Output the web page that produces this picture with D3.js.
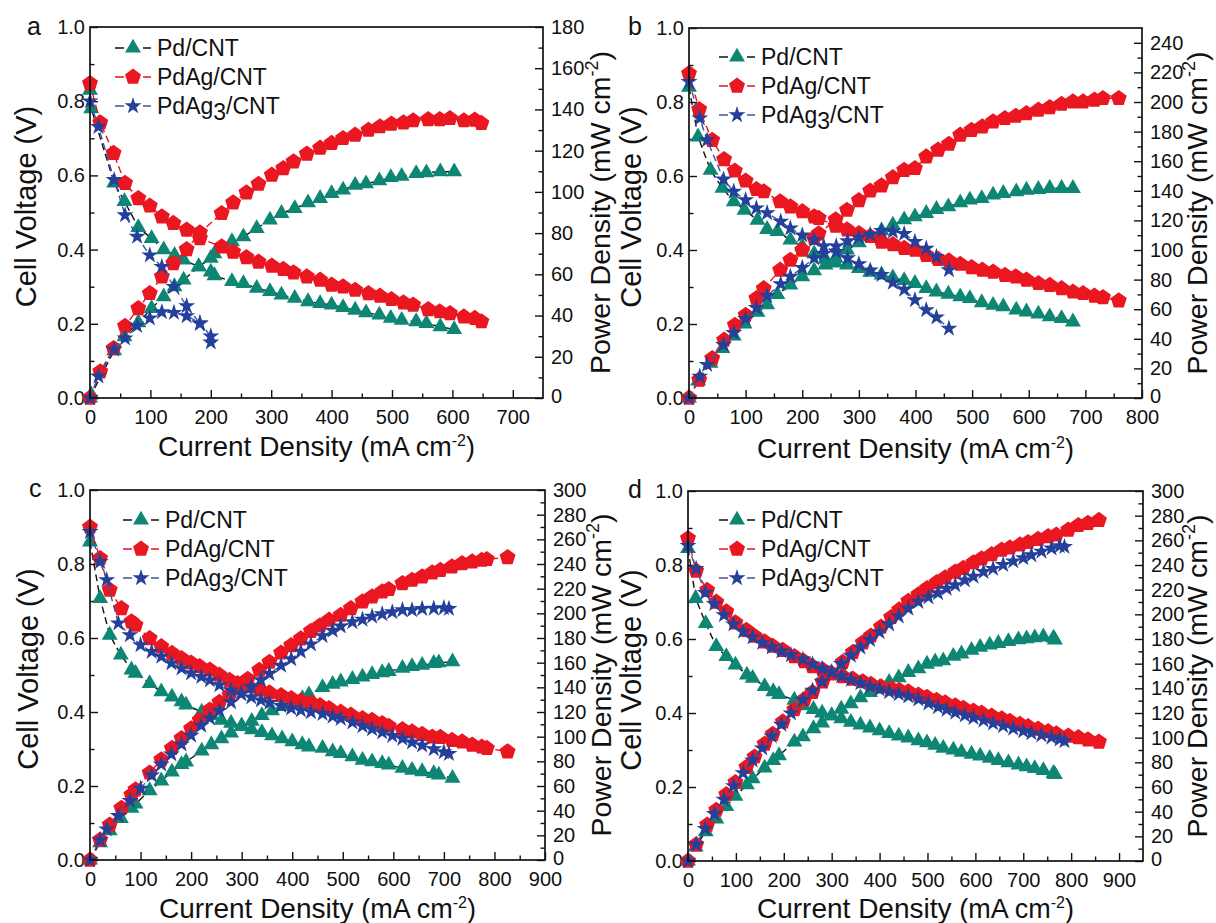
<!DOCTYPE html>
<html><head><meta charset="utf-8">
<script src="https://cdn.jsdelivr.net/npm/d3@7"></script>
<style>body{margin:0;background:#fff}svg{display:block}text{font-family:"Liberation Sans",Arial,sans-serif;fill:#111}</style>
</head><body><svg id="chart" width="1216" height="923"></svg>
<script>
// ---------- data ----------
const seriesNames = ["Pd/CNT", "PdAg/CNT", "PdAg3/CNT"];
const panelLetters = ["a", "b", "c", "d"];
const voltTicks = [0, 0.2, 0.4, 0.6, 0.8, 1.0];
const a_xTicks = [0, 100, 200, 300, 400, 500, 600, 700];
const b_xTicks = [0, 100, 200, 300, 400, 500, 600, 700, 800];
const c_xTicks = [0, 100, 200, 300, 400, 500, 600, 700, 800, 900];
const d_xTicks = [0, 100, 200, 300, 400, 500, 600, 700, 800, 900];
const a_pTicks = [0, 20, 40, 60, 80, 100, 120, 140, 160, 180];
const b_pTicks = [0, 20, 40, 60, 80, 100, 120, 140, 160, 180, 200, 220, 240];
const c_pTicks = [0, 20, 40, 60, 80, 100, 120, 140, 160, 180, 200, 220, 240, 260, 280, 300];
const d_pTicks = [0, 20, 40, 60, 80, 100, 120, 140, 160, 180, 200, 220, 240, 260, 280, 300];

// panel a
const a_Pd_I = [0, 2, 40, 57, 80, 102, 122, 140, 155, 180, 200, 206, 235, 254, 276, 298, 317, 339, 361, 381, 400, 419, 439, 457, 479, 498, 516, 540, 557, 580, 603];
const a_Pd_V = [0.83, 0.78, 0.58, 0.53, 0.46, 0.43, 0.40, 0.385, 0.372, 0.354, 0.34, 0.33, 0.314, 0.309, 0.296, 0.287, 0.278, 0.269, 0.26, 0.255, 0.251, 0.244, 0.237, 0.23, 0.224, 0.215, 0.21, 0.206, 0.201, 0.192, 0.185];
const a_Pd_P = [0, 1.6, 23, 29.8, 36.6, 43.5, 49.2, 54, 57.3, 63.7, 67.8, 70, 75.9, 78.3, 82.3, 86.4, 89.6, 92, 94.8, 96.9, 99.3, 101, 103.3, 104, 105.4, 107, 107.6, 109, 109.3, 109.8, 109.8];
const a_PdAg_I = [0, 17, 39, 58, 80, 99, 119, 138, 160, 182, 218, 237, 259, 279, 301, 320, 337, 359, 381, 400, 419, 439, 461, 480, 499, 519, 535, 560, 579, 596, 619, 637, 648];
const a_PdAg_V = [0.848, 0.742, 0.66, 0.579, 0.538, 0.518, 0.489, 0.471, 0.453, 0.43, 0.408, 0.394, 0.379, 0.367, 0.356, 0.347, 0.338, 0.327, 0.318, 0.305, 0.30, 0.291, 0.282, 0.275, 0.266, 0.257, 0.251, 0.239, 0.233, 0.228, 0.219, 0.215, 0.206];
const a_PdAg_P = [0, 12.8, 24.1, 34.9, 43.5, 50.8, 58.9, 65.3, 72.1, 80.2, 89.6, 94.8, 99.6, 103.8, 108.2, 111.4, 114.7, 118.4, 121.3, 123.6, 126, 127.6, 130, 131.7, 133, 133.6, 134.6, 135.2, 135.2, 135.7, 134.6, 134.9, 133.3];
const a_PdAg3_I = [0, 14, 40, 58, 78, 99, 119, 139, 160, 182, 200];
const a_PdAg3_V = [0.80, 0.731, 0.588, 0.493, 0.435, 0.385, 0.354, 0.30, 0.248, 0.20, 0.15];
const a_PdAg3_P = [0, 10.5, 23.5, 29, 35, 38.7, 41.7, 41.4, 39.8, 36.4, 30];

// panel b
const b_Pd_I = [0, 16, 38, 59, 79, 98, 121, 138, 156, 179, 200, 221, 241, 259, 279, 300, 320, 340, 360, 380, 399, 419, 437, 458, 479, 496, 517, 537, 555, 578, 596, 617, 637, 658, 678];
const b_Pd_V = [0.84, 0.706, 0.616, 0.567, 0.531, 0.508, 0.481, 0.456, 0.45, 0.427, 0.41, 0.39, 0.375, 0.365, 0.36, 0.35, 0.34, 0.333, 0.325, 0.318, 0.31, 0.296, 0.287, 0.281, 0.274, 0.269, 0.258, 0.251, 0.247, 0.238, 0.233, 0.227, 0.22, 0.215, 0.206];
const b_Pd_P = [0, 11.5, 23.5, 33.5, 42, 50, 58, 63, 70, 76.5, 82, 86, 90, 94.5, 100, 105, 109, 113, 117, 120.5, 122.5, 124.8, 127.5, 129.3, 132, 133.8, 134.9, 137.2, 138.3, 139.4, 140.5, 141, 141.7, 141.7, 141.7];
const b_PdAg_I = [0, 18, 41, 62, 81, 100, 119, 132, 161, 179, 200, 221, 229, 259, 279, 300, 320, 340, 360, 380, 399, 419, 440, 459, 479, 499, 518, 537, 558, 577, 596, 617, 637, 658, 678, 696, 716, 731, 759];
const b_PdAg_V = [0.877, 0.78, 0.697, 0.645, 0.614, 0.587, 0.564, 0.558, 0.531, 0.517, 0.504, 0.49, 0.486, 0.465, 0.455, 0.445, 0.437, 0.422, 0.415, 0.405, 0.40, 0.386, 0.375, 0.371, 0.362, 0.353, 0.346, 0.341, 0.332, 0.328, 0.319, 0.31, 0.305, 0.296, 0.287, 0.283, 0.276, 0.272, 0.263];
const b_PdAg_P = [0, 12.2, 26.8, 39.2, 49.3, 56, 67.3, 74, 86.5, 93.2, 100, 108, 111, 120.5, 127, 133.5, 140, 143.5, 149, 154, 155.2, 163, 167.6, 171.6, 177.7, 181, 183.3, 186.7, 189, 190.5, 192.3, 194.6, 196.4, 198.6, 200.2, 200.2, 201.4, 202.5, 202.5];
const b_PdAg3_I = [0, 19, 32, 61, 79, 100, 119, 138, 162, 179, 200, 221, 238, 260, 280, 300, 320, 340, 360, 380, 399, 419, 437, 459];
const b_PdAg3_V = [0.855, 0.756, 0.697, 0.591, 0.558, 0.535, 0.513, 0.50, 0.477, 0.459, 0.44, 0.427, 0.41, 0.395, 0.378, 0.362, 0.345, 0.333, 0.312, 0.293, 0.265, 0.238, 0.218, 0.188];
const b_PdAg3_P = [0, 14.5, 22.5, 36, 44, 53.5, 61, 69, 77, 82, 88, 94.5, 97.5, 102.5, 106, 108.5, 110.5, 113, 112.5, 111, 105.6, 101, 95.5, 86.5];

// panel c
const c_Pd_I = [0, 20, 39, 61, 82, 90, 118, 141, 162, 181, 190, 221, 240, 260, 279, 300, 320, 340, 360, 380, 400, 420, 433, 460, 480, 496, 519, 539, 558, 578, 591, 618, 637, 657, 680, 690, 717];
const c_Pd_V = [0.86, 0.707, 0.608, 0.554, 0.514, 0.505, 0.477, 0.455, 0.441, 0.428, 0.419, 0.40, 0.39, 0.378, 0.37, 0.362, 0.352, 0.345, 0.336, 0.328, 0.32, 0.312, 0.306, 0.302, 0.293, 0.288, 0.279, 0.27, 0.266, 0.261, 0.257, 0.248, 0.243, 0.239, 0.234, 0.23, 0.221];
const c_Pd_P = [0, 14, 23.7, 33.8, 42, 45.5, 56.3, 64.2, 71.4, 77.5, 79.6, 88.4, 93.6, 98.3, 103, 108.6, 112.6, 117.3, 121, 124.6, 128, 131, 134, 140, 142.5, 144.5, 146.5, 148.5, 150.5, 152, 153, 155.5, 157, 158, 159.5, 160, 160.8];
const c_PdAg_I = [0, 20, 39, 62, 82, 90, 118, 141, 162, 181, 200, 217, 237, 256, 276, 292, 312, 335, 355, 378, 398, 417, 437, 455, 473, 496, 516, 539, 558, 578, 591, 618, 637, 657, 677, 693, 716, 736, 756, 775, 785, 826];
const c_PdAg_V = [0.90, 0.815, 0.73, 0.68, 0.644, 0.635, 0.599, 0.577, 0.559, 0.545, 0.533, 0.523, 0.514, 0.50, 0.486, 0.477, 0.47, 0.46, 0.452, 0.445, 0.437, 0.43, 0.425, 0.418, 0.41, 0.40, 0.392, 0.383, 0.378, 0.369, 0.362, 0.353, 0.347, 0.34, 0.333, 0.332, 0.324, 0.32, 0.311, 0.306, 0.302, 0.293];
const c_PdAg_P = [0, 16.3, 28.5, 42, 52.8, 57, 70.7, 81.4, 90.6, 98.6, 106.5, 113.5, 121.8, 128, 134, 139.3, 146.6, 154, 160.5, 168, 174, 179.5, 185.5, 190, 194.6, 198.6, 204, 209.5, 213.5, 217.6, 219.5, 224.3, 227, 229.7, 233, 235, 237.8, 240.5, 241.9, 243.2, 243.8, 245.4];
const c_PdAg3_I = [0, 20, 33, 56, 79, 100, 122, 141, 161, 181, 200, 220, 237, 256, 279, 299, 319, 338, 355, 378, 398, 417, 437, 460, 480, 496, 519, 539, 558, 578, 598, 618, 637, 657, 680, 700, 710];
const c_PdAg3_V = [0.887, 0.806, 0.757, 0.64, 0.608, 0.581, 0.563, 0.55, 0.532, 0.518, 0.505, 0.495, 0.486, 0.473, 0.459, 0.45, 0.44, 0.432, 0.425, 0.417, 0.41, 0.405, 0.40, 0.395, 0.388, 0.382, 0.372, 0.362, 0.354, 0.345, 0.336, 0.328, 0.318, 0.31, 0.30, 0.292, 0.287];
const c_PdAg3_P = [0, 16, 25, 35.8, 48, 58, 68.7, 77.5, 85.7, 93.8, 101, 109, 115, 121, 128, 134.5, 140.4, 146, 151, 157.6, 163, 169, 175, 181.7, 186, 189.5, 193, 195, 197.5, 199.4, 201, 202.7, 202.6, 203.7, 204, 204.4, 203.8];

// panel d
const d_Pd_I = [0, 16, 37, 59, 80, 99, 123, 135, 160, 178, 190, 222, 240, 262, 280, 300, 320, 340, 360, 380, 400, 420, 440, 460, 481, 499, 516, 533, 554, 571, 592, 610, 630, 648, 669, 690, 707, 724, 742, 763, 766];
const d_Pd_V = [0.845, 0.71, 0.642, 0.58, 0.553, 0.53, 0.503, 0.494, 0.472, 0.458, 0.45, 0.435, 0.42, 0.41, 0.40, 0.393, 0.385, 0.375, 0.368, 0.36, 0.352, 0.345, 0.338, 0.333, 0.325, 0.32, 0.313, 0.305, 0.30, 0.294, 0.289, 0.284, 0.278, 0.272, 0.266, 0.26, 0.255, 0.25, 0.245, 0.237, 0.234];
const d_Pd_P = [0, 11.4, 23.8, 34.2, 44.2, 52.5, 61.9, 66.7, 75.5, 81.5, 85.5, 96.6, 100.8, 107.4, 112, 117.9, 123.2, 127.5, 132.5, 136.8, 140.8, 145, 148.7, 153, 156, 159.7, 161.5, 162.5, 166, 168, 171, 173.3, 175.2, 176.5, 178, 179.4, 180.3, 181, 181.8, 180.8, 179.2];
const d_PdAg_I = [0, 17, 40, 59, 80, 99, 122, 139, 160, 177, 198, 222, 243, 260, 281, 299, 323, 344, 365, 382, 403, 424, 441, 460, 481, 499, 519, 537, 558, 575, 596, 613, 634, 655, 672, 693, 710, 731, 752, 769, 794, 815, 835, 858];
const d_PdAg_V = [0.872, 0.784, 0.732, 0.70, 0.674, 0.644, 0.624, 0.608, 0.593, 0.581, 0.57, 0.553, 0.539, 0.526, 0.517, 0.508, 0.499, 0.492, 0.485, 0.478, 0.471, 0.466, 0.462, 0.458, 0.449, 0.443, 0.435, 0.428, 0.42, 0.413, 0.406, 0.40, 0.392, 0.385, 0.378, 0.37, 0.364, 0.357, 0.35, 0.344, 0.338, 0.334, 0.328, 0.322];
const d_PdAg_P = [0, 13.3, 29.3, 41.3, 53.9, 63.8, 76.1, 84.5, 94.9, 102.8, 112.9, 122.8, 131, 136.8, 145.3, 151.9, 161.2, 169.2, 177, 182.6, 189.8, 197.6, 203.7, 210.7, 216, 221, 225.8, 229.8, 234.4, 237.5, 242, 245.2, 248.5, 252.2, 254, 256.4, 258.4, 261, 263.2, 264.5, 268.4, 272.2, 273.9, 276.3];
const d_PdAg3_I = [0, 17, 36, 55, 75, 95, 115, 135, 155, 175, 195, 215, 240, 260, 280, 300, 320, 340, 360, 380, 400, 420, 440, 460, 481, 502, 522, 540, 558, 578, 596, 617, 637, 658, 679, 700, 717, 738, 759, 776, 786];
const d_PdAg3_V = [0.852, 0.79, 0.725, 0.695, 0.665, 0.64, 0.62, 0.605, 0.59, 0.578, 0.567, 0.557, 0.545, 0.532, 0.52, 0.51, 0.50, 0.49, 0.481, 0.472, 0.464, 0.457, 0.451, 0.445, 0.437, 0.426, 0.416, 0.409, 0.401, 0.394, 0.387, 0.38, 0.372, 0.365, 0.358, 0.351, 0.346, 0.34, 0.334, 0.329, 0.324];
const d_PdAg3_P = [0, 13.4, 26.1, 38.2, 49.9, 60.8, 71.3, 81.7, 91.5, 101.2, 110.6, 119.8, 130.8, 138.3, 145.6, 153, 160, 166.6, 173.2, 179.4, 185.6, 192, 198.4, 204.7, 210.2, 213.9, 217.2, 220.9, 223.8, 227.7, 230.7, 234.5, 237, 240.2, 243.1, 245.7, 248, 251, 253.5, 255.3, 254.7];

// ---------- layout ----------
const panels = [
  {x0: 90, x1: 543, y0: 27, y1: 398, xMax: 750, pMax: 180, xTicks: a_xTicks, pTicks: a_pTicks,
   legX: 115, legY: 48, letX: 27, letY: 35, vtX: 36, ptX: 610, xtY: 456,
   data: [[a_Pd_I, a_Pd_V, a_Pd_P], [a_PdAg_I, a_PdAg_V, a_PdAg_P], [a_PdAg3_I, a_PdAg3_V, a_PdAg3_P]]},
  {x0: 689, x1: 1142, y0: 28, y1: 398, xMax: 800, pMax: 250, xTicks: b_xTicks, pTicks: b_pTicks,
   legX: 719, legY: 57, letX: 628, letY: 35, vtX: 641, ptX: 1207, xtY: 458,
   data: [[b_Pd_I, b_Pd_V, b_Pd_P], [b_PdAg_I, b_PdAg_V, b_PdAg_P], [b_PdAg3_I, b_PdAg3_V, b_PdAg3_P]]},
  {x0: 90, x1: 545, y0: 490, y1: 860, xMax: 900, pMax: 300, xTicks: c_xTicks, pTicks: c_pTicks,
   legX: 123, legY: 520, letX: 29, letY: 497, vtX: 38, ptX: 611, xtY: 918,
   data: [[c_Pd_I, c_Pd_V, c_Pd_P], [c_PdAg_I, c_PdAg_V, c_PdAg_P], [c_PdAg3_I, c_PdAg3_V, c_PdAg3_P]]},
  {x0: 688, x1: 1143, y0: 491, y1: 861, xMax: 950, pMax: 300, xTicks: d_xTicks, pTicks: d_pTicks,
   legX: 719, legY: 520, letX: 628, letY: 498, vtX: 641, ptX: 1207, xtY: 918,
   data: [[d_Pd_I, d_Pd_V, d_Pd_P], [d_PdAg_I, d_PdAg_V, d_PdAg_P], [d_PdAg3_I, d_PdAg3_V, d_PdAg3_P]]}
];

function pentagonPath(r) {
  const pts = d3.range(5).map(k => {
    const a = -Math.PI / 2 + k * 2 * Math.PI / 5;
    return [(r * Math.cos(a)).toFixed(2), (r * Math.sin(a)).toFixed(2)];
  });
  return "M" + pts.map(p => p.join(",")).join("L") + "Z";
}
const styles = [
  {fill: "#0e8674", line: "#111", sym: d3.symbol(d3.symbolTriangle, 110)()},
  {fill: "#ea1620", line: "#e8141b", sym: pentagonPath(8.4)},
  {fill: "#24409a", line: "#3b56a5", sym: d3.symbol(d3.symbolStar, 90)()}
];

const svg = d3.select("#chart");
const FONT = '"Liberation Sans", Arial, sans-serif';
const TICK_FS = 20;

function styleAxis(sel, size) {
  sel.attr("font-size", size).attr("font-family", FONT);
  sel.selectAll(".tick line").attr("stroke", "#111").attr("stroke-width", 1.4);
  sel.selectAll(".tick text").attr("fill", "#111");
  sel.select(".domain").remove();
}

panels.forEach((L, pi) => {
  const g = svg.append("g");
  const x = d3.scaleLinear().domain([0, L.xMax]).range([L.x0, L.x1]);
  const yV = d3.scaleLinear().domain([0, 1]).range([L.y1, L.y0]);
  const yP = d3.scaleLinear().domain([0, L.pMax]).range([L.y1, L.y0]);

  // minor ticks
  const xMinor = d3.range(50, L.xMax, 100);
  const vMinor = [0.1, 0.3, 0.5, 0.7, 0.9];
  const pMinor = d3.range(10, L.pMax, 20);
  g.append("g").attr("transform", `translate(0,${L.y1})`)
    .call(d3.axisBottom(x).tickValues(xMinor).tickSize(-4.5).tickFormat(""))
    .call(s => styleAxis(s, TICK_FS));
  g.append("g").attr("transform", `translate(${L.x0},0)`)
    .call(d3.axisLeft(yV).tickValues(vMinor).tickSize(-4.5).tickFormat(""))
    .call(s => styleAxis(s, TICK_FS));
  g.append("g").attr("transform", `translate(${L.x1},0)`)
    .call(d3.axisRight(yP).tickValues(pMinor).tickSize(-4.5).tickFormat(""))
    .call(s => styleAxis(s, TICK_FS));
  // major ticks
  g.append("g").attr("transform", `translate(0,${L.y1})`)
    .call(d3.axisBottom(x).tickValues(L.xTicks).tickSize(-8).tickPadding(12).tickFormat(d3.format("d")))
    .call(s => styleAxis(s, TICK_FS));
  g.append("g").attr("transform", `translate(${L.x0},0)`)
    .call(d3.axisLeft(yV).tickValues(voltTicks).tickSize(-8).tickPadding(5).tickFormat(d3.format(".1f")))
    .call(s => styleAxis(s, TICK_FS));
  g.append("g").attr("transform", `translate(${L.x1},0)`)
    .call(d3.axisRight(yP).tickValues(L.pTicks).tickSize(-8).tickPadding(8).tickFormat(d3.format("d")))
    .call(s => styleAxis(s, TICK_FS))
    .call(s => s.selectAll(".tick text").filter(d => d === 0).attr("dy", "0.2em"));

  // series
  L.data.forEach((arr, k) => {
    const [I, V, P] = arr;
    const st = styles[k];
    const vPts = I.map((d, j) => [x(d), yV(V[j])]);
    const pPts = I.map((d, j) => [x(d), yP(P[j])]);
    const line = d3.line();
    [vPts, pPts].forEach(pts => {
      g.append("path").attr("d", line(pts)).attr("fill", "none")
        .attr("stroke", st.line).attr("stroke-width", 1.4).attr("stroke-dasharray", "7,4");
    });
    [vPts, pPts].forEach(pts => {
      g.append("g").selectAll("path").data(pts).join("path")
        .attr("d", st.sym).attr("transform", d => `translate(${d[0]},${d[1]})`)
        .attr("fill", st.fill);
    });
  });

  // frame
  g.append("rect").attr("x", L.x0).attr("y", L.y0).attr("width", L.x1 - L.x0).attr("height", L.y1 - L.y0)
    .attr("fill", "none").attr("stroke", "#111").attr("stroke-width", 1.7);

  // legend
  seriesNames.forEach((name, k) => {
    const st = styles[k];
    const yy = L.legY + k * 29;
    g.append("line").attr("x1", L.legX).attr("x2", L.legX + 36).attr("y1", yy).attr("y2", yy)
      .attr("stroke", st.line).attr("stroke-width", 1.6).attr("stroke-dasharray", "9,5");
    g.append("path").attr("d", st.sym).attr("transform", `translate(${L.legX + 18},${yy})`).attr("fill", st.fill);
    const t = g.append("text").attr("x", L.legX + 42).attr("y", yy + 8).attr("font-size", 23);
    const m = name.match(/^(PdAg)3(\/CNT)$/);
    if (m) {
      t.append("tspan").text(m[1]);
      t.append("tspan").attr("dy", 6).text("3");
      t.append("tspan").attr("dy", -6).text(m[2]);
    } else t.text(name);
  });

  // panel letter
  g.append("text").attr("x", L.letX).attr("y", L.letY).attr("font-size", 25).text(panelLetters[pi]);

  // axis titles
  const cy = (L.y0 + L.y1) / 2;
  g.append("text").attr("transform", `translate(${L.vtX},${cy - 6}) rotate(-90)`)
    .attr("text-anchor", "middle").attr("font-size", 29).text("Cell Voltage (V)");
  const pt = g.append("text").attr("transform", `translate(${L.ptX},${cy}) rotate(-90)`)
    .attr("text-anchor", "middle").attr("font-size", 28.5);
  pt.append("tspan").text("Power Density (mW cm");
  pt.append("tspan").attr("dy", -12).attr("font-size", 18).text("-2");
  pt.append("tspan").attr("dy", 12).text(")");
  const xt = g.append("text").attr("x", (L.x0 + L.x1) / 2).attr("y", L.xtY)
    .attr("text-anchor", "middle").attr("font-size", 28);
  xt.append("tspan").text("Current Density ");
  xt.append("tspan").attr("font-size", 27).text("(mA cm");
  xt.append("tspan").attr("dy", -10).attr("font-size", 16).text("-2");
  xt.append("tspan").attr("dy", 10).attr("font-size", 27).text(")");
});
</script></body></html>
